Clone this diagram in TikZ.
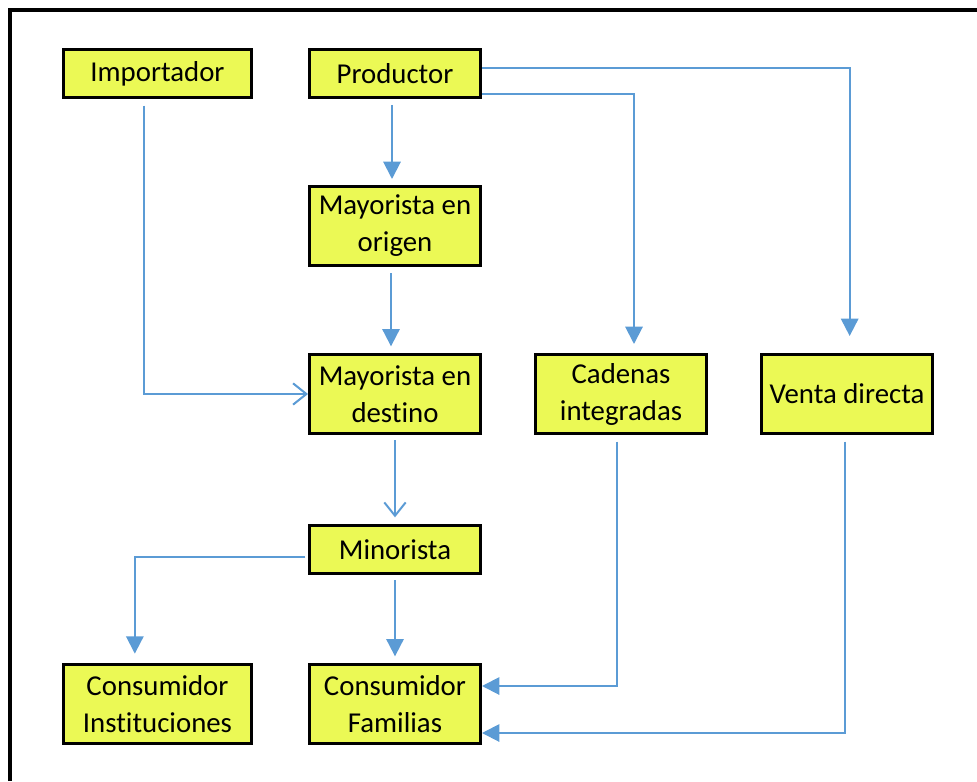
\documentclass[tikz,border=0pt]{standalone}
\usepackage{fontspec}
\setmainfont[Ligatures=NoCommon]{Carlito}
\usepackage{xcolor}
\usetikzlibrary{arrows.meta,calc,positioning}
\definecolor{cajaamarilla}{RGB}{235,249,85}
\definecolor{lineaazul}{RGB}{91,155,213}

\begin{document}
\begin{tikzpicture}[x=0.75pt,y=-0.75pt,semithick]
	\tikzstyle{caja}=[draw=black, line width=2.25pt, fill=cajaamarilla, align=center, minimum width=128.25pt, minimum height=36pt, inner sep=2pt, font=\fontsize{21.6}{27.75}\selectfont]
	\tikzstyle{doble}=[caja, minimum height=59.25pt]
	\tikzstyle{ancha}=[minimum width=141pt]
	\tikzstyle{flecha}=[draw=lineaazul, line width=1.5pt, -{Triangle[length=13pt,width=13pt]}]
	\tikzstyle{flechab}=[draw=lineaazul, line width=1.5pt, -{Straight Barb[length=10pt,width=16pt]}]
	\useasboundingbox (0,0) rectangle (977,781);
	\draw[line width=3pt] (10,781) -- (10,10) -- (977,10);

		\node[caja,ancha] (imp)  at (157.5,73.5) {Importador};
		\node[caja]       (prod) at (395,73.5)   {Productor};
		\node[doble]      (orig) at (395,226)    {Mayorista en\\origen};
		\node[doble]      (dest) at (395,394)    {Mayorista en\\destino};
		\node[doble]      (cad)  at (621,394)    {Cadenas\\integradas};
		\node[doble]      (vent) at (847,394)    {Venta directa};
		\node[caja]       (mino) at (395,549.5)  {Minorista};
		\node[doble,ancha] (inst) at (157.5,704) {Consumidor\\Instituciones};
		\node[doble]      (fam)  at (395,704)    {Consumidor\\Familias};

		\draw[flecha, shorten <=4.5pt, shorten >=4.5pt] ([xshift=-2.25pt]prod.south) -- ([xshift=-2.25pt]orig.north);
		\draw[flecha, shorten <=4.5pt, shorten >=5pt] ([xshift=-3pt]orig.south) -- ([xshift=-3pt]dest.north);
		\draw[flechab, shorten <=5pt] ([xshift=-10pt]imp.south) |- (dest.west);
		\draw[flechab, shorten <=4pt, shorten >=5pt] (dest.south) -- (mino.north);
		\draw[flecha, shorten <=2pt, shorten >=7pt] ([yshift=-5.5pt]mino.west) -| ([xshift=-17pt]inst.north);
		\draw[flecha, shorten <=4pt, shorten >=5pt] (mino.south) -- (fam.north);
		\draw[flecha, shorten >=6.75pt] ([yshift=3.75pt]prod.south east) -| ([xshift=9.75pt]cad.north);
		\draw[flecha, shorten >=12.75pt] ([yshift=4pt]prod.east) -| ([xshift=2pt]vent.north);
		\draw[flecha, shorten <=5pt] ([xshift=-3pt]cad.south) |- ([yshift=13.5pt]fam.east);
		\draw[flecha, shorten <=5pt] ([xshift=-1.5pt]vent.south) |- ([yshift=-21.75pt]fam.east);
\end{tikzpicture}
\end{document}
